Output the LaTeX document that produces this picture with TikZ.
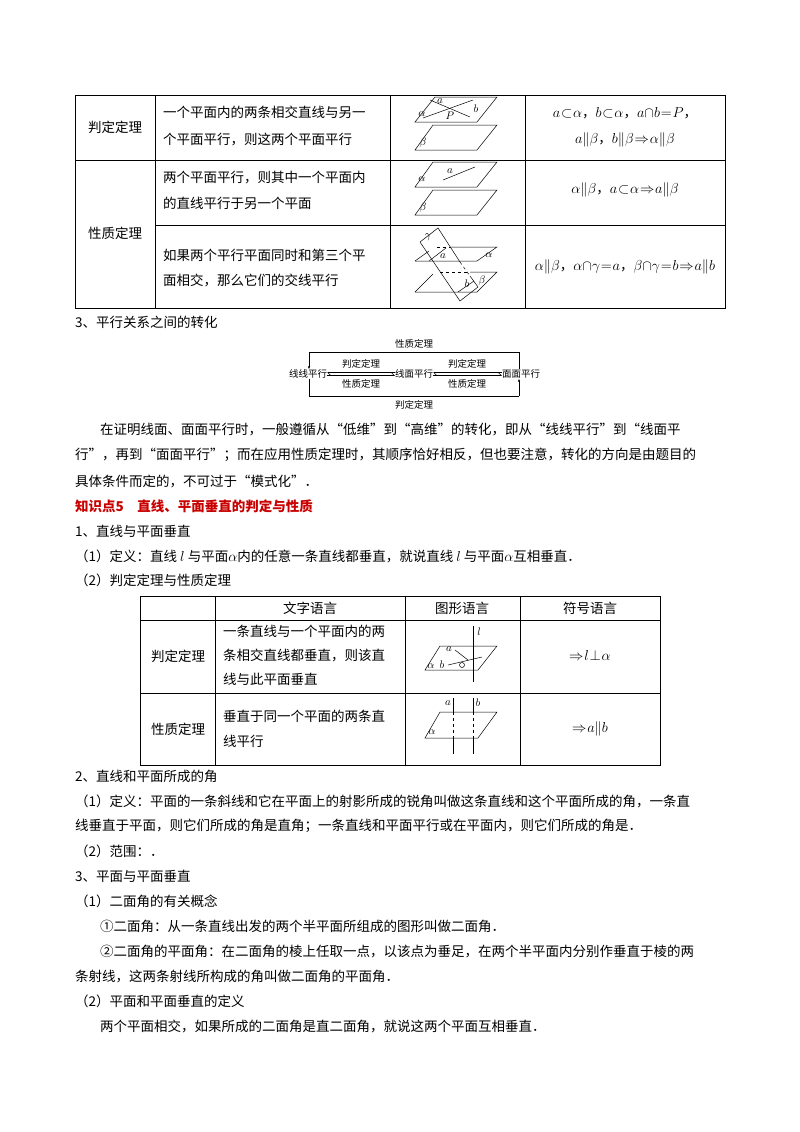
\documentclass[tikz,border=0pt]{standalone}
\usepackage{fontspec}
\setmainfont{Noto Sans CJK SC}
\usetikzlibrary{arrows.meta}
\newcommand\tightmu{\thickmuskip=1mu\relax\medmuskip=0mu\relax}
\begin{document}
\begin{tikzpicture}[x=1pt,y=-1pt,
  txt/.style={anchor=west,inner sep=0pt,font=\fontsize{13.5}{14}\selectfont},
  ctr/.style={inner sep=0pt,font=\fontsize{13.5}{14}\selectfont},
  sml/.style={inner sep=0pt,font=\fontsize{9.5}{10}\selectfont},
  lab/.style={inner sep=0pt,font=\fontsize{11}{11}\selectfont},
  grid/.style={line width=0.8pt},
  fig/.style={line width=0.5pt}]
\useasboundingbox (0,0) rectangle (800,1132);
% ---------- table 1 ----------
\draw[grid] (75,95) rectangle (725,308);
\foreach \x in {155,390,525} \draw[grid] (\x,95) -- (\x,308);
\draw[grid] (75,160) -- (725,160);
\draw[grid] (155,225) -- (725,225);
\node[ctr] (t1a) at (115,127) {判定定理};
\node[ctr] (t1b) at (115,233) {性质定理};
\node[txt] (r1a) at (163,112) {一个平面内的两条相交直线与另一};
\node[txt] (r1b) at (163,140) {个平面平行，则这两个平面平行};
\node[txt] (r2a) at (163,178) {两个平面平行，则其中一个平面内};
\node[txt] (r2b) at (163,203) {的直线平行于另一个平面};
\node[txt] (r3a) at (163,255) {如果两个平行平面同时和第三个平};
\node[txt] (r3b) at (163,280) {面相交，那么它们的交线平行};
\node[ctr] (s1a) at (625,113) {$\tightmu a\subset\alpha$，$\tightmu b\subset\alpha$，$\tightmu a\cap b=P$，};
\node[ctr] (s1b) at (625,140) {$\tightmu a\Vert\beta$，$\tightmu b\Vert\beta\Rightarrow\alpha\Vert\beta$};
\node[ctr] (s2) at (625,190) {$\tightmu\alpha\Vert\beta$，$\tightmu a\subset\alpha\Rightarrow a\Vert\beta$};
\node[ctr] (s3) at (625,267) {$\tightmu\alpha\Vert\beta$，$\tightmu\alpha\cap\gamma=a$，$\tightmu\beta\cap\gamma=b\Rightarrow a\Vert b$};
% figures table1
\draw[fig] (415,122)--(477,122)--(497,97)--(435,97)--cycle;
\draw[fig] (430,100)--(470,117); \draw[fig] (423,118)--(473,100);
\node[lab] at (422,114) {$\alpha$}; \node[lab] at (440,101) {$a$};
\node[lab] at (476,109) {$b$}; \node[lab] at (450,116) {$P$};
\draw[fig] (415,150)--(477,150)--(497,125)--(433,125)--cycle;
\node[lab] at (423,143) {$\beta$};
\draw[fig] (415,187)--(477,187)--(497,162)--(433,162)--cycle;
\draw[fig] (443,180)--(475,167);
\node[lab] at (422,179) {$\alpha$}; \node[lab] at (450,171) {$a$};
\draw[fig] (415,215)--(477,215)--(497,190)--(433,190)--cycle;
\node[lab] at (423,208) {$\beta$};
% row3
\draw[fig] (415,261)--(477,261)--(497,247)--(450,247);
\draw[fig] (415,261)--(429,251);
\draw[fig,dashed] (437,247)--(450,247);
\draw[fig] (415,292)--(477,292)--(497,272)--(470,272);
\draw[fig] (415,292)--(433,274);
\draw[fig,dashed] (440,272)--(470,272);
\draw[fig] (420,242)--(438,228)--(460,262);
\draw[fig,dashed] (460,262)--(470,276);
\draw[fig] (470,276)--(478,287)--(460,301)--(420,242);
\draw[fig] (429,261)--(446,248);
\draw[fig] (458,292)--(474,281);
\node[lab] at (428,237) {$\gamma$}; \node[lab] at (443,256) {$a$};
\node[lab] at (489,255) {$\alpha$}; \node[lab] at (467,284) {$b$};
\node[lab] at (482,281) {$\beta$};
% ---------- section 3 ----------
\node[txt] (h3) at (75,322) {3、平行关系之间的转化};
\node[sml] (ll) at (308,374) {线线平行};
\node[sml] (lm) at (414,374) {线面平行};
\node[sml] (mm) at (521,374) {面面平行};
\coordinate (tl) at (309,352); \coordinate (tr) at (519,352);
\coordinate (bl) at (309,396); \coordinate (br) at (519,396);
\draw[fig] (tr) -- (tl);
\draw[fig] (tr) -- (mm.north -| tr);
\draw[fig,-{Latex[length=3pt]}] (tl) -- (ll.north -| tl);
\draw[fig] (ll.south -| bl) -- (bl) -- (br);
\draw[fig,-{Latex[length=3pt]}] (br) -- (mm.south -| br);
\node[sml] (l1) at (414,344) {性质定理};
\node[sml] (l2) at (414,405) {判定定理};
\draw[fig,-{Straight Barb[left,length=3pt]}] ([yshift=-1.5]ll.east) -- ([yshift=-1.5]lm.west);
\draw[fig,-{Straight Barb[left,length=3pt]}] ([yshift=1.5]lm.west) -- ([yshift=1.5]ll.east);
\draw[fig,-{Straight Barb[left,length=3pt]}] ([yshift=-1.5]lm.east) -- ([yshift=-1.5]mm.west);
\draw[fig,-{Straight Barb[left,length=3pt]}] ([yshift=1.5]mm.west) -- ([yshift=1.5]lm.east);
\node[sml] at (361,364) {判定定理}; \node[sml] at (361,384) {性质定理};
\node[sml] at (467,364) {判定定理}; \node[sml] at (467,384) {性质定理};
\node[txt] at (100,430) {在证明线面、面面平行时，一般遵循从“低维”到“高维”的转化，即从“线线平行”到“线面平};
\node[txt] at (75,455) {行”，再到“面面平行”；而在应用性质定理时，其顺序恰好相反，但也要注意，转化的方向是由题目的};
\node[txt] at (75,481) {具体条件而定的，不可过于“模式化”．};
\node[txt,text={rgb,255:red,200;green,0;blue,0},font=\fontsize{13.5}{14}\selectfont\bfseries] at (75,506) {知识点5　直线、平面垂直的判定与性质};
\node[txt] at (75,531) {1、直线与平面垂直};
\node[txt] at (75,556) {（1）定义：直线 $l$ 与平面$\alpha$内的任意一条直线都垂直，就说直线 $l$ 与平面$\alpha$互相垂直．};
\node[txt] at (75,580) {（2）判定定理与性质定理};
% ---------- table 2 ----------
\draw[grid] (140,596) rectangle (660,765);
\foreach \x in {215,405,520} \draw[grid] (\x,596) -- (\x,765);
\draw[grid] (140,620) -- (660,620);
\draw[grid] (140,693) -- (660,693);
\node[ctr] at (310,608) {文字语言};
\node[ctr] at (462,608) {图形语言};
\node[ctr] at (590,608) {符号语言};
\node[ctr] at (178,656) {判定定理};
\node[ctr] at (178,729) {性质定理};
\node[txt] at (223,631) {一条直线与一个平面内的两};
\node[txt] at (223,655) {条相交直线都垂直，则该直};
\node[txt] at (223,679) {线与此平面垂直};
\node[txt] at (223,716) {垂直于同一个平面的两条直};
\node[txt] at (223,741) {线平行};
\node[ctr] at (590,655) {$\tightmu\Rightarrow l\perp\alpha$};
\node[ctr] at (590,729) {$\tightmu\Rightarrow a\Vert b$};
\draw[fig] (425,670)--(478,670)--(497,646)--(440,646)--cycle;
\draw[fig] (473,626)--(473,682);
\draw[fig] (455,650)--(468,660); \draw[fig] (448,665)--(482,657);
\draw[fig] (462,665) circle (2.5);
\node[lab] at (479,632) {$l$}; \node[lab] at (449,649) {$a$};
\node[lab] at (442,665) {$b$}; \node[lab] at (431,666) {$\alpha$};
\draw[fig] (425,738)--(478,738)--(497,712)--(440,712)--cycle;
\foreach \x in {453,473} {\draw[fig] (\x,698)--(\x,712); \draw[fig,dashed] (\x,712)--(\x,738); \draw[fig] (\x,738)--(\x,754);}
\node[lab] at (448,703) {$a$}; \node[lab] at (478,703) {$b$}; \node[lab] at (432,732) {$\alpha$};
% ---------- rest ----------
\node[txt] at (75,776) {2、直线和平面所成的角};
\node[txt] at (75,801) {（1）定义：平面的一条斜线和它在平面上的射影所成的锐角叫做这条直线和这个平面所成的角，一条直};
\node[txt] at (75,826) {线垂直于平面，则它们所成的角是直角；一条直线和平面平行或在平面内，则它们所成的角是．};
\node[txt] at (75,851) {（2）范围：．};
\node[txt] at (75,876) {3、平面与平面垂直};
\node[txt] at (75,901) {（1）二面角的有关概念};
\node[txt] at (100,926) {①二面角：从一条直线出发的两个半平面所组成的图形叫做二面角．};
\node[txt] at (100,951) {②二面角的平面角：在二面角的棱上任取一点，以该点为垂足，在两个半平面内分别作垂直于棱的两};
\node[txt] at (75,976) {条射线，这两条射线所构成的角叫做二面角的平面角．};
\node[txt] at (75,1001) {（2）平面和平面垂直的定义};
\node[txt] at (100,1026) {两个平面相交，如果所成的二面角是直二面角，就说这两个平面互相垂直．};
\end{tikzpicture}
\end{document}
